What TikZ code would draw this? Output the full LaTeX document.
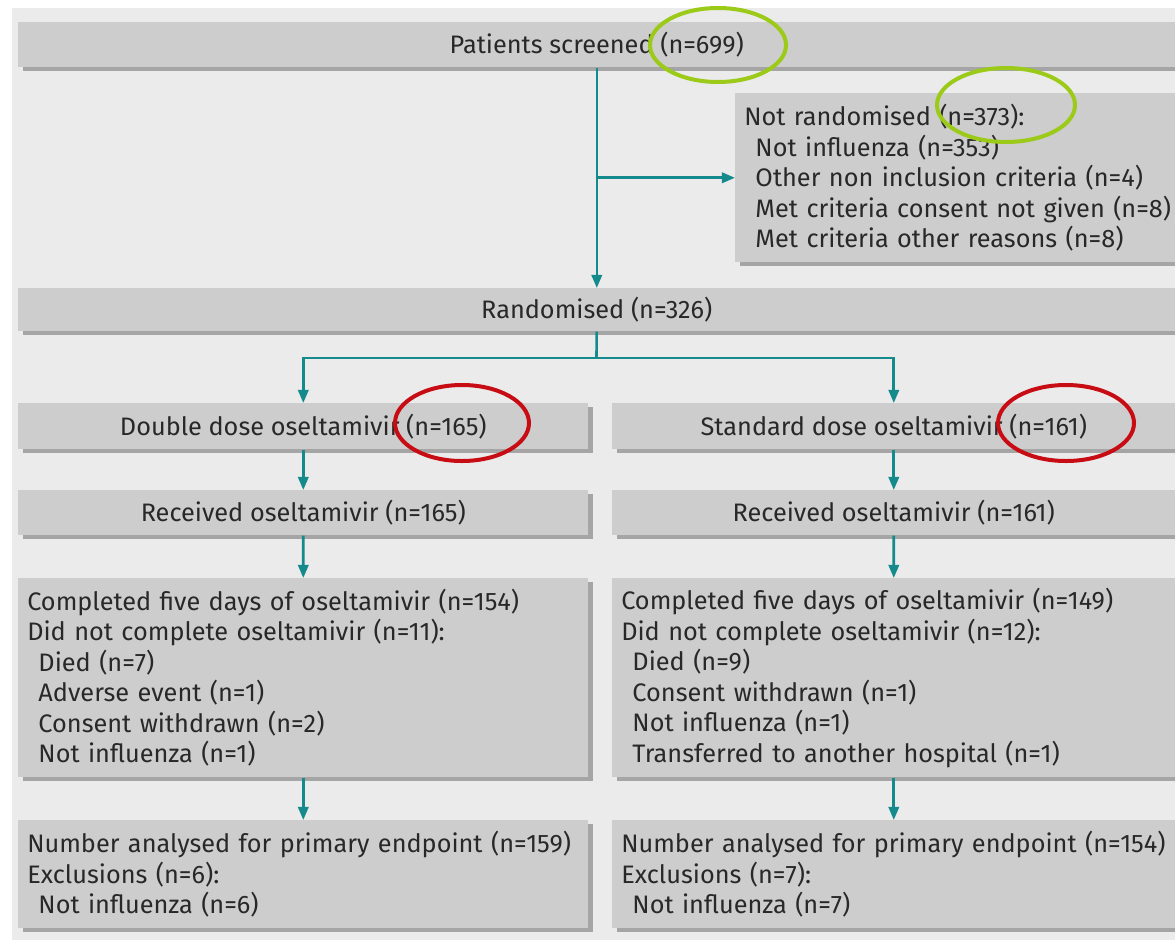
\documentclass[tikz,border=0pt]{standalone}
\usepackage{fontspec}
\setmainfont{Fira Sans}
\usepackage{tikz}
\usetikzlibrary{arrows.meta,shadows}
\definecolor{pagegrey}{RGB}{235,235,235}
\definecolor{boxgrey}{RGB}{205,205,205}
\definecolor{shadegrey}{RGB}{165,165,165}
\definecolor{teal}{RGB}{20,138,140}
\definecolor{inkgrey}{RGB}{40,40,40}
\definecolor{ringgreen}{RGB}{155,202,25}
\definecolor{ringred}{RGB}{200,12,20}
\newcommand{\ind}{\hspace*{2.8mm}}

\tikzset{
  box/.style={rectangle, fill=boxgrey, anchor=north west, inner xsep=2.25mm, inner ysep=0pt,
    text=inkgrey, font=\fontsize{18}{21.7}\selectfont,
    drop shadow={shadow xshift=1.25mm, shadow yshift=-1mm, fill=shadegrey, opacity=1}},
  listbox/.style={box, align=left},
  flow/.style={teal, line width=0.65mm, -{Triangle[width=2.6mm,length=3.3mm]}},
  ring/.style={line width=1mm}
}

\begin{document}
\begin{tikzpicture}[x=0.25mm, y=-0.25mm]
  \useasboundingbox (0,0) rectangle (1175,940);
  \clip (0,0) rectangle (1175,940);
  \fill[white] (0,0) rectangle (1175,940);
  \fill[pagegrey] (12,8) rectangle (1175,940);

  \node[box, minimum width=289.25mm, minimum height=11.25mm] (screened) at (18,22) {Patients screened (n=699)};
  \node[listbox, text width=108mm, minimum height=42.25mm] (notrand) at (735,93)
    {Not randomised (n=373):\\
     \ind Not influenza (n=353)\\
     \ind Other non inclusion criteria (n=4)\\
     \ind Met criteria consent not given (n=8)\\
     \ind Met criteria other reasons (n=8)};
  \node[box, minimum width=289.25mm, minimum height=10.75mm] (randomised) at (18,288) {Randomised (n=326)};

  \node[box, minimum width=142.5mm, minimum height=11.5mm] (double) at (18,403) {Double dose oseltamivir (n=165)};
  \node[box, minimum width=140.75mm, minimum height=11.5mm] (standard) at (612,403) {Standard dose oseltamivir (n=161)};

  \node[box, minimum width=142.5mm, minimum height=11.25mm] (recv1) at (18,490) {Received oseltamivir (n=165)};
  \node[box, minimum width=140.75mm, minimum height=11.25mm] (recv2) at (612,490) {Received oseltamivir (n=161)};

  \node[listbox, text width=138mm, minimum height=49.75mm] (done1) at (18,578)
    {Completed five days of oseltamivir (n=154)\\
     Did not complete oseltamivir (n=11):\\
     \ind Died (n=7)\\
     \ind Adverse event (n=1)\\
     \ind Consent withdrawn (n=2)\\
     \ind Not influenza (n=1)};
  \node[listbox, text width=136.25mm, minimum height=49.75mm] (done2) at (612,578)
    {Completed five days of oseltamivir (n=149)\\
     Did not complete oseltamivir (n=12):\\
     \ind Died (n=9)\\
     \ind Consent withdrawn (n=1)\\
     \ind Not influenza (n=1)\\
     \ind Transferred to another hospital (n=1)};

  \node[listbox, text width=138mm, minimum height=27mm] (anal1) at (18,820)
    {Number analysed for primary endpoint (n=159)\\
     Exclusions (n=6):\\
     \ind Not influenza (n=6)};
  \node[listbox, text width=136.25mm, minimum height=27mm] (anal2) at (612,820)
    {Number analysed for primary endpoint (n=154)\\
     Exclusions (n=7):\\
     \ind Not influenza (n=7)};

  \coordinate (split) at (596.5,358);

  \draw[flow] (screened) -- (randomised);
  \draw[flow] (screened |- notrand) -- (notrand);
  \draw[teal, line width=0.65mm] (randomised) -- (split);
  \draw[flow] (split) -| (double);
  \draw[flow] (split) -| (standard);
  \draw[flow] (double) -- (recv1);
  \draw[flow] (standard) -- (recv2);
  \draw[flow] (recv1) -- (done1);
  \draw[flow] (recv2) -- (done2);
  \draw[flow] (done1) -- (anal1);
  \draw[flow] (done2) -- (anal2);

  \draw[ring, ringgreen] (718,45) ellipse (17mm and 9.25mm);
  \draw[ring, ringgreen] (1006,105) ellipse (17.25mm and 9.25mm);
  \draw[ring, ringred] (462,423) ellipse (16.75mm and 9.5mm);
  \draw[ring, ringred] (1066,423) ellipse (17mm and 9.5mm);
\end{tikzpicture}
\end{document}
